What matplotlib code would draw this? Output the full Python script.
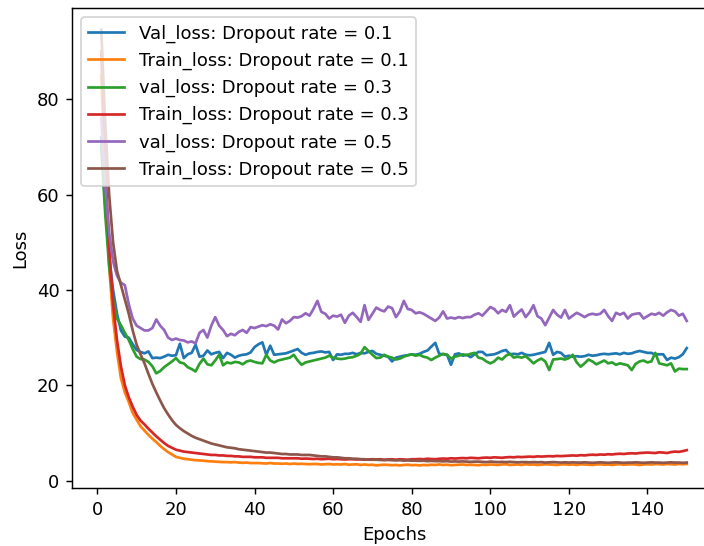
import numpy as np
import matplotlib
matplotlib.use('Agg')
import matplotlib.pyplot as plt

# loss curves, epochs 1..150
epochs = np.arange(1, 151)

val_01 = [72, 58, 47, 40, 35, 31.5, 30.2, 30, 28.6, 27.4,
          27, 26.7, 27.1, 25.7, 25.8, 25.7, 26, 26.4, 26.2, 26.3,
          28.7, 25.7, 26.5, 26.8, 28.5, 26, 26.2, 27.3, 26.5, 26.8,
          27, 25.7, 26.8, 26.4, 25.8, 26.2, 26.4, 26.5, 26.9, 28,
          28.6, 29, 26.4, 28.3, 26.4, 26.5, 26.6, 26.7, 27, 27.3,
          27.6, 26.8, 26.4, 26.7, 26.8, 27, 27.1, 26.9, 27, 25.3,
          26.5, 26.4, 26.6, 26.6, 26.8, 26.5, 26.8, 26.7, 27, 27.2,
          26.6, 26.4, 26.2, 26, 25, 25.8, 26, 26.2, 26.3, 26.5,
          26.4, 26.6, 27, 27.3, 28.1, 28.9, 26.6, 26.5, 26.4, 24.3,
          26.5, 26.7, 26.2, 26.4, 25.9, 26.5, 27, 27, 26.3, 26.4,
          26.5, 26.8, 27.2, 27.4, 26.5, 26.6, 26.5, 26.8, 26.4, 26.3,
          26.4, 26.6, 26.8, 27, 28.9, 26.4, 27, 26.8, 26, 26.2,
          26, 26.1, 26, 26.1, 26.4, 26.2, 26.3, 26.5, 26.6, 26.5,
          26.6, 26.7, 26.5, 26.8, 26.6, 26.7, 27, 27.2, 27, 26.8,
          26.8, 26.4, 26.5, 26.5, 25.3, 25.8, 25.6, 25.9, 26.5, 27.8]

train_01 = [85, 62, 45, 34, 27, 21.5, 18.5, 16.5, 14.2, 12.8,
            11.4, 10.5, 9.6, 8.8, 8.1, 7.3, 6.6, 6, 5.5, 5,
            4.8, 4.6, 4.5, 4.4, 4.3, 4.25, 4.2, 4.1, 4.05, 4,
            3.95, 3.9, 3.9, 3.85, 3.9, 3.8, 3.75, 3.8, 3.7, 3.7,
            3.7, 3.65, 3.6, 3.7, 3.6, 3.6, 3.55, 3.6, 3.5, 3.6,
            3.5, 3.55, 3.5, 3.45, 3.5, 3.5, 3.4, 3.45, 3.5, 3.4,
            3.45, 3.4, 3.5, 3.35, 3.4, 3.45, 3.3, 3.4, 3.3, 3.35,
            3.2, 3.3, 3.35, 3.3, 3.25, 3.3, 3.2, 3.3, 3.35, 3.25,
            3.3, 3.2, 3.3, 3.25, 3.35, 3.3, 3.4, 3.3, 3.35, 3.25,
            3.3, 3.35, 3.4, 3.3, 3.35, 3.3, 3.25, 3.35, 3.3, 3.4,
            3.35, 3.3, 3.4, 3.45, 3.3, 3.35, 3.4, 3.3, 3.45, 3.35,
            3.4, 3.3, 3.35, 3.45, 3.4, 3.35, 3.3, 3.4, 3.45, 3.35,
            3.4, 3.3, 3.45, 3.4, 3.35, 3.3, 3.4, 3.45, 3.35, 3.4,
            3.3, 3.4, 3.45, 3.35, 3.4, 3.45, 3.4, 3.3, 3.4, 3.45,
            3.4, 3.5, 3.45, 3.4, 3.5, 3.45, 3.4, 3.5, 3.45, 3.5]

val_03 = [70, 56, 45, 38, 34, 32.6, 31, 29.5, 27.6, 26,
          25.5, 25.4, 24.9, 24, 22.5, 23, 23.8, 24.4, 25, 25.7,
          24.8, 24.6, 23.8, 23.4, 22.9, 24.5, 25.6, 24.4, 24.2, 25.2,
          26.4, 24.2, 24.8, 24.6, 24.9, 24.8, 24.4, 25, 25.2, 24.9,
          24.7, 24.6, 26.4, 25.2, 24.8, 25.2, 25.4, 25.6, 25.8, 26.4,
          25.2, 24.3, 24.8, 25, 25.2, 25.4, 25.6, 25.8, 26.2, 25.8,
          25.6, 25.5, 25.6, 25.8, 25.9, 26.2, 26.6, 28, 27.2, 26.4,
          25.7, 25.8, 26.4, 26, 25.8, 25.4, 25.6, 26, 26.3, 26.5,
          26.2, 26.4, 26, 25.8, 25.3, 25.8, 26.2, 26.6, 26.4, 25.6,
          26, 26.2, 26.5, 26.3, 26.6, 26.8, 25.8, 25.6, 25, 24.6,
          25, 25.8, 25.4, 26.2, 26.6, 25.8, 26, 25.8, 26.1, 25.4,
          24.6, 25.2, 25.6, 25, 23.2, 25.4, 25.5, 25.6, 25.4, 25.7,
          26.4, 24.8, 23.9, 24.6, 25.4, 25, 24.4, 24.8, 25.2, 24.6,
          24.8, 24.3, 24.6, 24.4, 24.2, 23.2, 24.5, 25, 25.2, 24.8,
          25, 26.8, 24.6, 24.4, 24.2, 24.6, 22.9, 23.5, 23.4, 23.4]

train_03 = [90, 66, 49, 37, 29.5, 24, 20, 17.5, 15.5, 13.8,
            12.6, 11.8, 10.9, 10.1, 9.3, 8.6, 7.9, 7.3, 6.9, 6.5,
            6.3, 6.1, 6, 5.9, 5.8, 5.7, 5.6, 5.5, 5.4, 5.4,
            5.3, 5.3, 5.2, 5.2, 5.1, 5.1, 5, 5, 5, 4.9,
            4.9, 4.9, 4.8, 4.8, 4.8, 4.8, 4.7, 4.7, 4.7, 4.7,
            4.7, 4.6, 4.65, 4.6, 4.55, 4.6, 4.5, 4.55, 4.6, 4.5,
            4.55, 4.5, 4.45, 4.5, 4.5, 4.45, 4.5, 4.4, 4.45, 4.5,
            4.45, 4.5, 4.4, 4.45, 4.5, 4.4, 4.5, 4.45, 4.4, 4.5,
            4.5, 4.55, 4.5, 4.6, 4.55, 4.5, 4.6, 4.65, 4.6, 4.7,
            4.65, 4.7, 4.75, 4.7, 4.8, 4.75, 4.7, 4.8, 4.85, 4.8,
            4.9, 4.85, 4.8, 4.9, 4.95, 4.9, 5.0, 4.95, 5.0, 5.05,
            5.0, 5.1, 5.05, 5.1, 5.15, 5.1, 5.2, 5.15, 5.2, 5.25,
            5.3, 5.25, 5.35, 5.3, 5.4, 5.45, 5.4, 5.5, 5.45, 5.55,
            5.5, 5.6, 5.65, 5.6, 5.7, 5.75, 5.7, 5.8, 5.85, 5.9,
            5.85, 5.8, 5.95, 5.9, 5.8, 6.0, 6.1, 6.05, 6.2, 6.4]

val_05 = [76, 62, 52, 46, 43, 41.5, 41, 37, 34, 32.5,
          32, 31.5, 31.5, 32, 33.8, 32.5, 31.6, 30, 29.5, 29.8,
          29.5, 29.4, 29, 29.2, 28.8, 31, 31.6, 30, 32.5, 34.3,
          32.5, 31.6, 30.3, 30.8, 30.5, 31.2, 31.6, 31, 32.2, 32,
          32.3, 32.6, 32.4, 32.8, 32.5, 31.7, 33.8, 33, 33.5, 34.3,
          34.2, 34.5, 35.1, 34.6, 36, 37.7, 35.4, 35, 34, 34.6,
          34.4, 34.8, 33.1, 34.6, 35.2, 34.3, 33.3, 36.8, 33.7, 35,
          36.3, 35.8, 35.5, 36.5, 36.2, 34.3, 35.5, 37.7, 36, 35.8,
          35.1, 35.3, 35, 34.5, 34, 33.5, 34.2, 35.5, 34, 34.2,
          34, 34.3, 34.1, 34.3, 34.3, 34.8, 35.1, 34.6, 35.5, 36.4,
          36, 35.1, 35.8, 35.4, 36.8, 34.4, 35.2, 35.9, 34.3, 35.3,
          36.8, 34.5, 34, 32.6, 34.2, 35.8, 34.8, 34.2, 35.8, 34,
          34.6, 35.2, 34.8, 34.3, 34.8, 35, 34.8, 35, 35.8, 34.5,
          33.5, 35.2, 34.8, 35.2, 34, 34.8, 35, 35.1, 34, 34.5,
          35, 34.8, 35.2, 34.6, 35.3, 35.8, 35.5, 34.6, 35, 33.5]

train_05 = [94.5, 75, 60, 50, 44, 41, 38, 35, 31.5, 28.5,
            26.5, 24.6, 22.4, 20.3, 18.5, 16.8, 15.2, 13.9, 12.7, 11.7,
            11, 10.4, 9.9, 9.4, 9, 8.7, 8.4, 8.1, 7.8, 7.6,
            7.4, 7.2, 7, 6.9, 6.8, 6.6, 6.5, 6.4, 6.3, 6.2,
            6.1, 6, 5.9, 5.9, 5.8, 5.7, 5.6, 5.6, 5.5, 5.5,
            5.5, 5.4, 5.4, 5.4, 5.3, 5.2, 5.1, 5.1, 5, 4.9,
            4.9, 4.8, 4.7, 4.7, 4.6, 4.6, 4.5, 4.5, 4.4, 4.4,
            4.4, 4.35, 4.3, 4.35, 4.3, 4.25, 4.3, 4.2, 4.25, 4.2,
            4.2, 4.15, 4.2, 4.1, 4.15, 4.1, 4.1, 4.05, 4.1, 4.0,
            4.05, 4.0, 4.05, 4.0, 3.95, 4.0, 4.0, 3.95, 3.9, 4.0,
            3.95, 3.9, 3.95, 3.9, 3.95, 3.9, 3.85, 3.9, 3.9, 3.85,
            3.9, 3.85, 3.9, 3.8, 3.85, 3.9, 3.85, 3.8, 3.85, 3.8,
            3.85, 3.8, 3.8, 3.85, 3.8, 3.75, 3.8, 3.85, 3.8, 3.75,
            3.8, 3.85, 3.8, 3.75, 3.8, 3.8, 3.85, 3.8, 3.75, 3.8,
            3.85, 3.8, 3.8, 3.75, 3.8, 3.85, 3.8, 3.8, 3.75, 3.8]

series = [val_01, train_01, val_03, train_03, val_05, train_05]
labels = ['Val_loss: Dropout rate = 0.1', 'Train_loss: Dropout rate = 0.1',
          'val_loss: Dropout rate = 0.3', 'Train_loss: Dropout rate = 0.3',
          'val_loss: Dropout rate = 0.5', 'Train_loss: Dropout rate = 0.5']

dpi = 130
fig = plt.figure(figsize=(704 / dpi, 546 / dpi), dpi=dpi)
# axes run a little past the right edge, like the cropped screenshot
ax = fig.add_axes([72 / 704, 58 / 546, 644 / 704, 480 / 546])

for s, lab in zip(series, labels):
    ax.plot(epochs, s, label=lab)

ax.set_xlim(-6.45, 157.45)
ax.set_ylim(-1.53, 99.1)
ax.set_xticks(np.arange(0, 141, 20))
ax.set_yticks(np.arange(0, 81, 20))
ax.set_xlabel('Epochs')
ax.set_ylabel('Loss')
ax.legend(loc='upper left')

fig.savefig('out.png', dpi=dpi)
